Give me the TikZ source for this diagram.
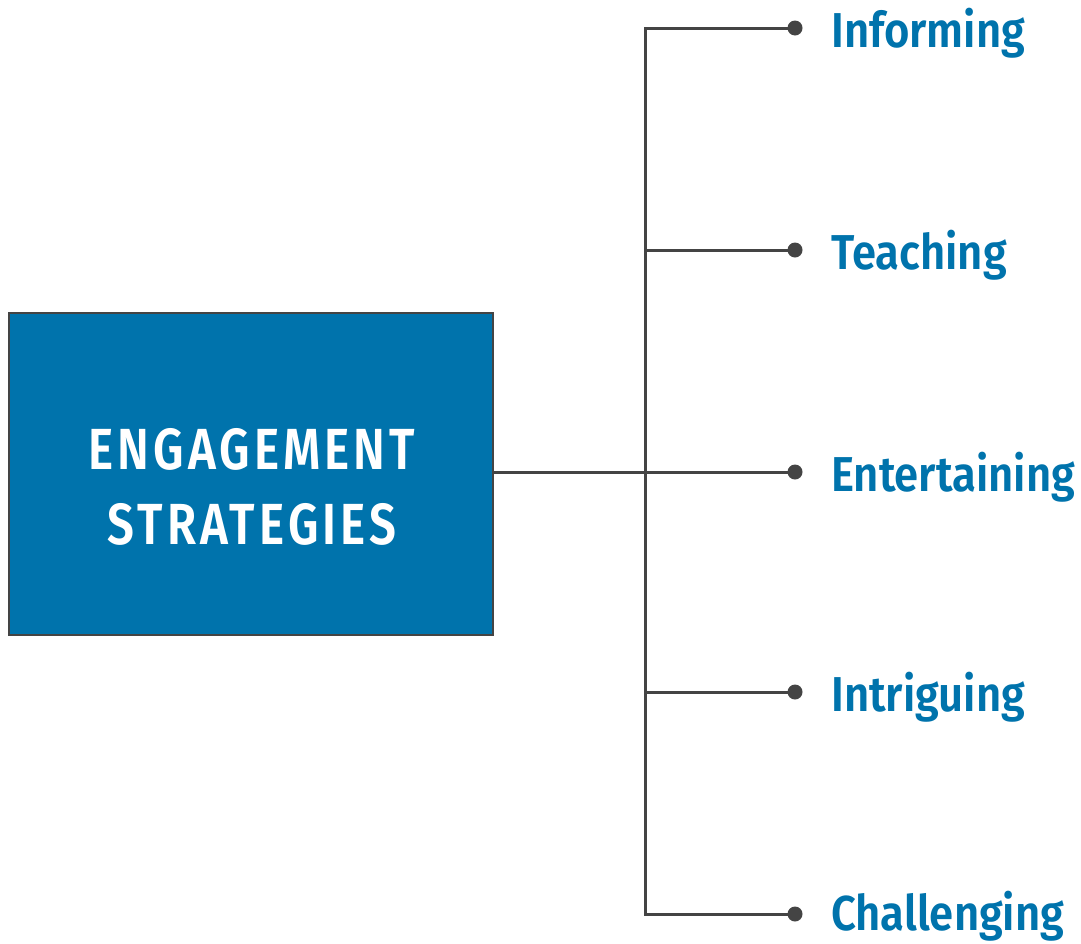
\documentclass[tikz,border=0pt]{standalone}
\usepackage{fontspec}
\setmainfont{Fira Sans}
\newfontfamily\labelfont[FakeStretch=0.89,UprightFont=* SemiBold]{Fira Sans}
\newfontfamily\boxfont[FakeStretch=0.82,LetterSpace=7,UprightFont=* SemiBold]{Fira Sans}
\definecolor{eblue}{HTML}{0073AC}
\definecolor{egray}{HTML}{444444}
\tikzset{
  mainbox/.style={draw=egray,line width=2.5pt,fill=eblue,minimum width=484pt,minimum height=322pt,inner sep=0pt},
  boxtext/.style={inner sep=0pt,text=white,align=center,font=\boxfont\fontsize{58}{75}\selectfont},
  conn/.style={draw=egray,line width=3pt},
  dotnode/.style={circle,fill=egray,inner sep=0pt,minimum size=15pt},
  lbl/.style={anchor=base west,inner sep=0pt,text=eblue,font=\labelfont\fontsize{49}{58}\selectfont}
}
\begin{document}
\begin{tikzpicture}[x=1pt,y=-1pt]
\useasboundingbox (0,0) rectangle (1081,943);
\node[mainbox] (box) at (251,474) {};
\node[boxtext] (title) at (252,487) {ENGAGEMENT\\STRATEGIES};
\coordinate (j) at (645,472);
\coordinate (top) at (645,28);
\coordinate (bot) at (645,914);
\coordinate (b2) at (645,250);
\coordinate (b4) at (645,692);
\node[dotnode] (d1) at (795,28) {};
\node[dotnode] (d2) at (795,250) {};
\node[dotnode] (d3) at (795,472) {};
\node[dotnode] (d4) at (795,692) {};
\node[dotnode] (d5) at (795,914) {};
\draw[conn] (d1.center) -- (top) -- (bot) -- (d5.center);
\draw[conn] (box.east |- j) -- (d3.center);
\draw[conn] (b2) -- (d2.center);
\draw[conn] (b4) -- (d4.center);
\node[lbl] (l1) at (831,47) {Informing};
\node[lbl] (l2) at (831,269) {Teaching};
\node[lbl] (l3) at (831,491) {Entertaining};
\node[lbl] (l4) at (831,711) {Intriguing};
\node[lbl] (l5) at (831,930) {Challenging};
\end{tikzpicture}
\end{document}
